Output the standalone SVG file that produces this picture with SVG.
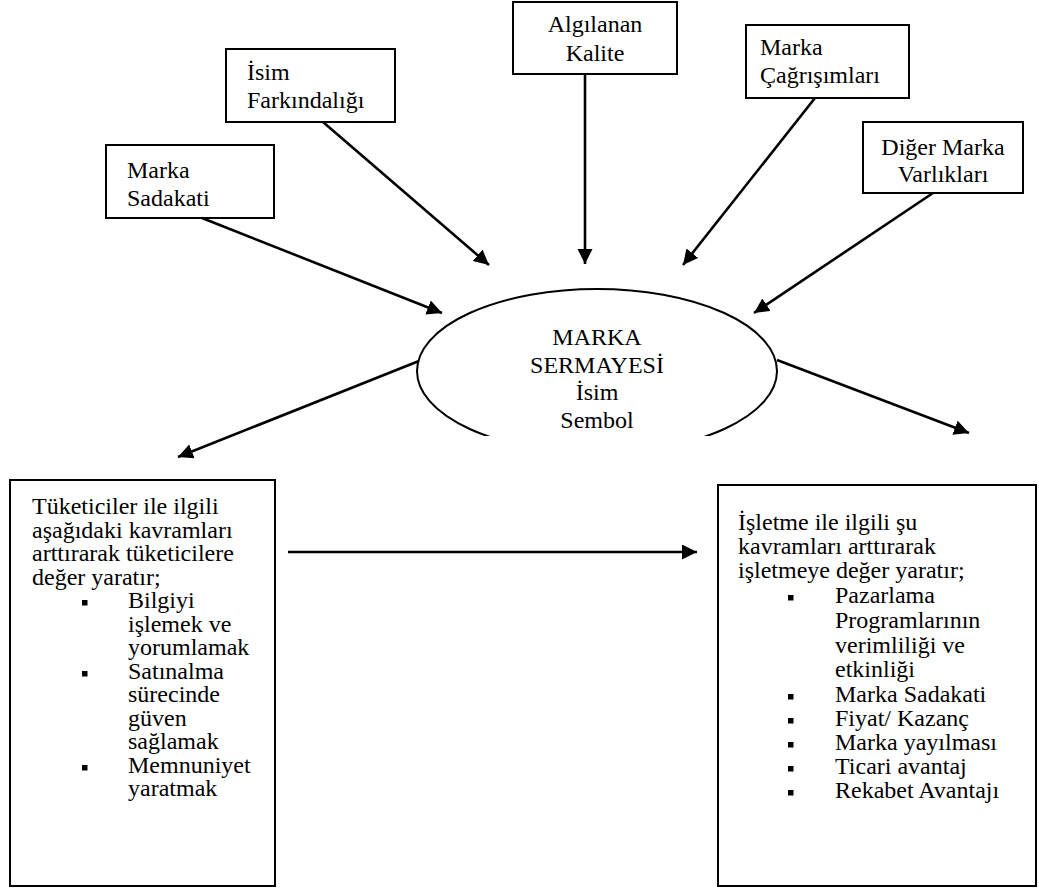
<svg xmlns="http://www.w3.org/2000/svg" width="1039" height="893" viewBox="0 0 1039 893">
  <style>
    .box { fill: #ffffff; stroke: #000000; stroke-width: 2; }
    .oval { fill: #ffffff; stroke: #000000; stroke-width: 2; }
    .t { font-family: "Liberation Serif", "Times New Roman", serif; font-size: 24px; fill: #000000; }
    .c { text-anchor: middle; }
    .wire { stroke: #000000; stroke-width: 2.6; fill: none; marker-end: url(#head); }
    .bullet { fill: #000000; }
  </style>
  <defs>
    <marker id="head" markerUnits="userSpaceOnUse" markerWidth="16" markerHeight="16" refX="15" refY="7.5" orient="auto">
      <path d="M0,0 L15,7.5 L0,15 Z" fill="#000000"/>
    </marker>
    <clipPath id="ovalClip">
      <rect x="0" y="0" width="1039" height="436"/>
    </clipPath>
    <clipPath id="ovalTextClip">
      <rect x="0" y="0" width="1039" height="429"/>
    </clipPath>
  </defs>

  <rect width="1039" height="893" fill="#ffffff"/>

  <!-- source boxes -->
  <g id="node-sadakat">
    <rect class="box" x="106" y="145" width="168" height="73"/>
    <text class="t" x="127" y="178">Marka</text>
    <text class="t" x="127" y="206">Sadakati</text>
  </g>

  <g id="node-farkindalik">
    <rect class="box" x="226" y="49" width="169" height="73"/>
    <text class="t" x="247" y="80">İsim</text>
    <text class="t" x="247" y="108">Farkındalığı</text>
  </g>

  <g id="node-kalite">
    <rect class="box" x="513" y="2" width="164" height="72"/>
    <text class="t c" x="595" y="32">Algılanan</text>
    <text class="t c" x="595" y="61">Kalite</text>
  </g>

  <g id="node-cagrisim">
    <rect class="box" x="746" y="25" width="163" height="73"/>
    <text class="t" x="760" y="55">Marka</text>
    <text class="t" x="760" y="83">Çağrışımları</text>
  </g>

  <g id="node-varliklar">
    <rect class="box" x="863" y="122" width="160" height="71"/>
    <text class="t c" x="943" y="155">Diğer Marka</text>
    <text class="t c" x="943" y="182">Varlıkları</text>
  </g>

  <!-- central ellipse, its lower part hidden -->
  <g id="node-sermaye">
    <ellipse class="oval" cx="597" cy="371" rx="180" ry="82" clip-path="url(#ovalClip)"/>
    <g clip-path="url(#ovalTextClip)">
      <text class="t c" x="597" y="345">MARKA</text>
      <text class="t c" x="597" y="373">SERMAYESİ</text>
      <text class="t c" x="597" y="400">İsim</text>
      <text class="t c" x="597" y="428">Sembol</text>
    </g>
  </g>

  <!-- consumer value box -->
  <g id="node-tuketici">
    <rect class="box" x="10" y="480" width="265" height="406"/>
    <text class="t" x="32" y="514">Tüketiciler ile ilgili</text>
    <text class="t" x="32" y="538">aşağıdaki kavramları</text>
    <text class="t" x="32" y="561">arttırarak tüketicilere</text>
    <text class="t" x="32" y="585">değer yaratır;</text>
    <rect class="bullet" x="82" y="600" width="5.5" height="5.5"/>
    <text class="t" x="128" y="608">Bilgiyi</text>
    <text class="t" x="128" y="632">işlemek ve</text>
    <text class="t" x="128" y="655">yorumlamak</text>
    <rect class="bullet" x="82" y="671" width="5.5" height="5.5"/>
    <text class="t" x="128" y="679">Satınalma</text>
    <text class="t" x="128" y="702">sürecinde</text>
    <text class="t" x="128" y="726">güven</text>
    <text class="t" x="128" y="749">sağlamak</text>
    <rect class="bullet" x="82" y="765" width="5.5" height="5.5"/>
    <text class="t" x="128" y="773">Memnuniyet</text>
    <text class="t" x="128" y="796">yaratmak</text>
  </g>

  <!-- business value box -->
  <g id="node-isletme">
    <rect class="box" x="718" y="485" width="318" height="401"/>
    <text class="t" x="738" y="530">İşletme ile ilgili şu</text>
    <text class="t" x="738" y="554">kavramları arttırarak</text>
    <text class="t" x="738" y="578">işletmeye değer yaratır;</text>
    <rect class="bullet" x="788" y="595" width="5.5" height="5.5"/>
    <text class="t" x="835" y="603">Pazarlama</text>
    <text class="t" x="835" y="628">Programlarının</text>
    <text class="t" x="835" y="653">verimliliği ve</text>
    <text class="t" x="835" y="677">etkinliği</text>
    <rect class="bullet" x="788" y="694" width="5.5" height="5.5"/>
    <text class="t" x="835" y="702">Marka Sadakati</text>
    <rect class="bullet" x="788" y="718" width="5.5" height="5.5"/>
    <text class="t" x="835" y="726">Fiyat/ Kazanç</text>
    <rect class="bullet" x="788" y="742" width="5.5" height="5.5"/>
    <text class="t" x="835" y="750">Marka yayılması</text>
    <rect class="bullet" x="788" y="766" width="5.5" height="5.5"/>
    <text class="t" x="835" y="774">Ticari avantaj</text>
    <rect class="bullet" x="788" y="790" width="5.5" height="5.5"/>
    <text class="t" x="835" y="798">Rekabet Avantajı</text>
  </g>

  <!-- connectors -->
  <g id="connectors">
    <line class="wire" x1="202" y1="218" x2="442" y2="313"/>
    <line class="wire" x1="323" y1="122" x2="489" y2="265"/>
    <line class="wire" x1="585" y1="74" x2="585" y2="264"/>
    <line class="wire" x1="815" y1="98" x2="683" y2="265"/>
    <line class="wire" x1="933" y1="193" x2="754" y2="313"/>
    <line class="wire" x1="419" y1="361" x2="178" y2="457"/>
    <line class="wire" x1="777" y1="360" x2="969" y2="433"/>
    <line class="wire" x1="288" y1="552" x2="697" y2="552"/>
  </g>
</svg>
